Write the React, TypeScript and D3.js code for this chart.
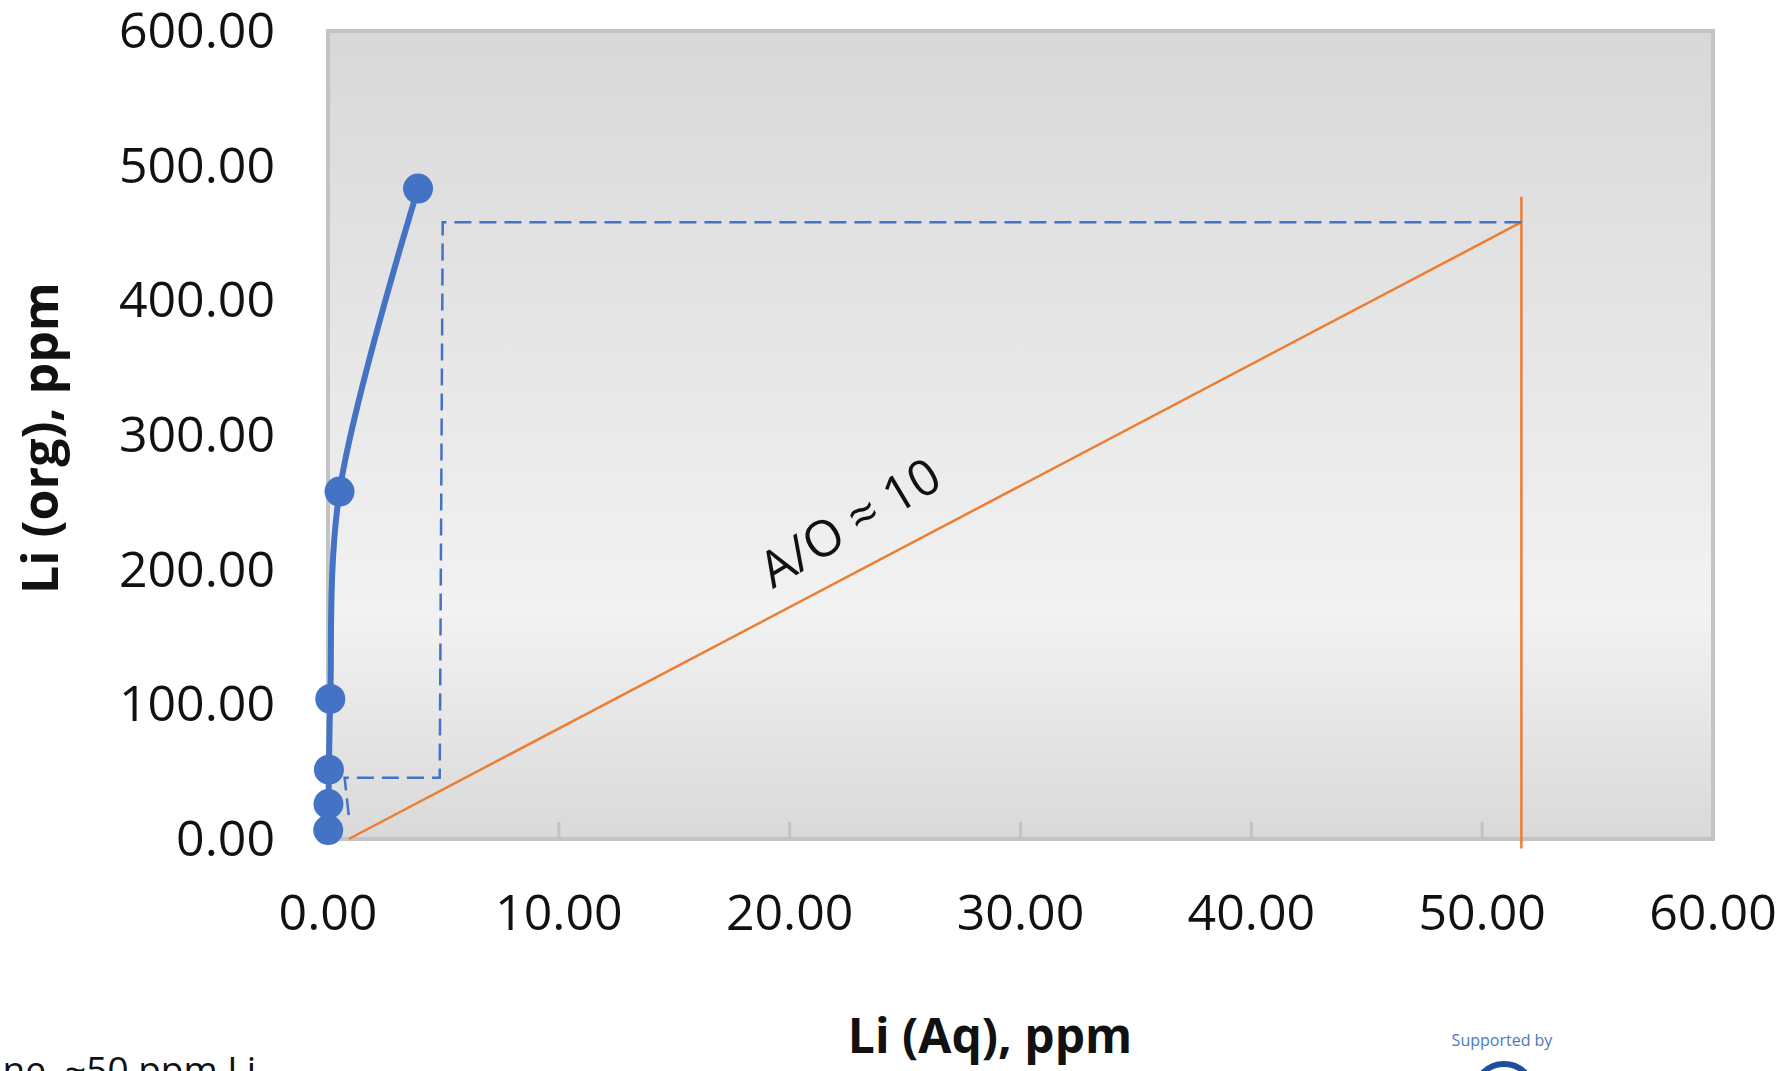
import * as d3 from 'd3'

// equilibrium isotherm (organic vs aqueous Li)
const EQ_AQ = [0.01, 0.02, 0.04, 0.1, 0.5, 3.9]
const EQ_ORG = [6.6, 26, 51.5, 104, 258, 483]

// McCabe-Thiele step construction
const STEP_AQ = [51.7, 4.97, 4.84, 0.72, 0.93]
const STEP_ORG = [458, 458, 45.5, 45.5, 12.5]

// operating line A/O ~ 10
const OP_AQ = [0.9, 51.7]
const OP_ORG = [0, 458]

// feed line
const FEED_AQ = [51.7, 51.7]
const FEED_ORG = [-7, 477]

const X_TICKS = [0, 10, 20, 30, 40, 50, 60]
const Y_TICKS = [0, 100, 200, 300, 400, 500, 600]

const W = 1788
const H = 1071
const margin = { left: 328, right: 75, top: 31, bottom: 232 }
const FONT = '"Open Sans", Calibri, sans-serif'
const BLUE = '#4472c4'
const ORANGE = '#ed7d31'

export default function App() {
  const x = d3.scaleLinear().domain([0, 60]).range([margin.left, W - margin.right])
  const y = d3.scaleLinear().domain([0, 600]).range([H - margin.bottom, margin.top])
  const fmt = d3.format('.2f')

  const eqData = EQ_AQ.map((v, i) => [v, EQ_ORG[i]] as [number, number])
  const stepData = STEP_AQ.map((v, i) => [v, STEP_ORG[i]] as [number, number])
  const opData = OP_AQ.map((v, i) => [v, OP_ORG[i]] as [number, number])
  const feedData = FEED_AQ.map((v, i) => [v, FEED_ORG[i]] as [number, number])

  const smooth = d3.line<[number, number]>()
    .x(d => x(d[0]))
    .y(d => y(d[1]))
    .curve(d3.curveCatmullRom.alpha(0.5))
  const straight = d3.line<[number, number]>()
    .x(d => x(d[0]))
    .y(d => y(d[1]))

  const [x0, x1] = x.range()
  const [y0, y1] = y.range()

  // label sits along the operating line
  const lx = x(22.6)
  const ly = y(235)

  return (
    <svg width={W} height={H} style={{ display: 'block' }}>
      <style>{`body { margin: 0; overflow: hidden; }`}</style>
      <defs>
        <linearGradient id="plotBg" x1="0" y1="0" x2="0" y2="1">
          <stop offset="0%" stopColor="#d8d8d8" />
          <stop offset="72%" stopColor="#f2f2f2" />
          <stop offset="100%" stopColor="#d9d9d9" />
        </linearGradient>
      </defs>
      <rect width={W} height={H} fill="#fff" />

      {/* plot area */}
      <rect x={x0} y={y1} width={x1 - x0} height={y0 - y1}
        fill="url(#plotBg)" stroke="#c3c3c3" strokeWidth={4} />

      {/* inward x ticks */}
      {X_TICKS.slice(1, -1).map(t => (
        <line key={t} x1={x(t)} x2={x(t)} y1={y0} y2={y0 - 17}
          stroke="#c3c3c3" strokeWidth={3} />
      ))}

      {/* y tick labels */}
      {Y_TICKS.map(t => (
        <text key={t} x={275} y={y(t) + 17} textAnchor="end"
          fontFamily={FONT} fontSize={50} fill="#111">{fmt(t)}</text>
      ))}

      {/* x tick labels */}
      {X_TICKS.map(t => (
        <text key={t} x={x(t)} y={930} textAnchor="middle"
          fontFamily={FONT} fontSize={50} fill="#111">{fmt(t)}</text>
      ))}

      {/* feed line and operating line */}
      <path d={straight(feedData) || ''} fill="none" stroke={ORANGE} strokeWidth={2.5} />
      <path d={straight(opData) || ''} fill="none" stroke={ORANGE} strokeWidth={2.5} />

      {/* step construction */}
      <path d={straight(stepData) || ''} fill="none" stroke={BLUE}
        strokeWidth={2.5} strokeDasharray="17 8" />

      {/* equilibrium curve */}
      <path d={smooth(eqData) || ''} fill="none" stroke={BLUE} strokeWidth={6} />
      {eqData.map((d, i) => (
        <circle key={i} cx={x(d[0])} cy={y(d[1])} r={15} fill={BLUE} />
      ))}

      <text transform={`translate(${lx},${ly}) rotate(-31)`} textAnchor="middle"
        dy="0.35em" fontFamily={FONT} fontSize={50} fill="#111">A/O ≈ 10</text>

      {/* axis titles */}
      <text transform="translate(58,438) rotate(-90)" textAnchor="middle"
        fontFamily={FONT} fontSize={50} fontWeight={700} fill="#111">Li (org), ppm</text>
      <text x={990} y={1053} textAnchor="middle"
        fontFamily={FONT} fontSize={48} fontWeight={700} fill="#111">Li (Aq), ppm</text>

      {/* slide remnants */}
      <text x={256} y={1083} textAnchor="end" fontFamily={FONT} fontSize={37}
        fill="#111">ine, ~50 ppm Li</text>
      <text x={1502} y={1046} textAnchor="middle" fontFamily={FONT} fontSize={16}
        fill="#4a78c0">Supported by</text>
      <circle cx={1504} cy={1094} r={30} fill="none" stroke="#1f4e9c" strokeWidth={6} />
    </svg>
  )
}
